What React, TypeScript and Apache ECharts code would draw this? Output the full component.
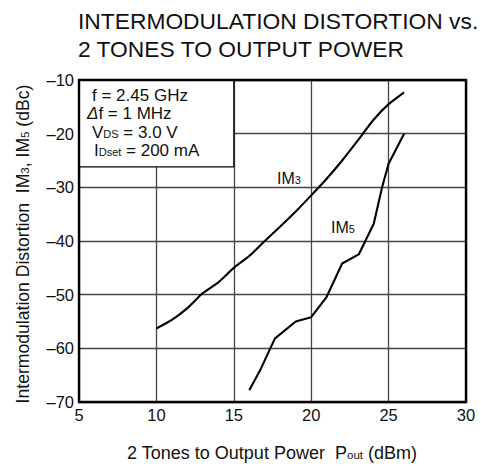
import React, { useEffect, useRef } from "react";
import * as echarts from "echarts";

const TITLE_LINES = ["INTERMODULATION DISTORTION vs.", "2 TONES TO OUTPUT POWER"];
const X_TICKS = [5, 10, 15, 20, 25, 30];
const Y_TICKS = [-70, -60, -50, -40, -30, -20, -10];

const IM3_X = [10, 11, 12, 13, 14, 15, 16, 17, 18, 19, 20, 21, 22, 23, 24, 25, 26];
const IM3_Y = [-56.3, -54.7, -52.5, -49.7, -47.7, -45.0, -42.8, -40.0, -37.3, -34.5, -31.5, -28.4, -25.0, -21.3, -17.5, -14.5, -12.3];

const IM5_X = [16, 16.7, 17.65, 19, 20, 21, 22, 23.07, 24.04, 24.58, 25, 26];
const IM5_Y = [-67.8, -64.1, -58.2, -55.0, -54.2, -50.4, -44.2, -42.5, -36.8, -30.0, -25.6, -20.0];

const BOX_CORNERS = [[5, -10], [15, -26.2]];

const FONT = "Liberation Sans, Arial, Helvetica, sans-serif";

export default function App() {
  const ref = useRef<HTMLDivElement>(null);
  useEffect(() => {
    if (!ref.current) return;
    const chart = echarts.init(ref.current, undefined, { renderer: "svg" });
    const gl = 79, gt = 80, gw = 387, gh = 322;
    const minus = (v: number) => String(v).replace("-", "\u2013");
    const sub = (size: number, big: number) => ({
      a: { fontSize: big, fontFamily: FONT, fill: "#111", verticalAlign: "bottom" },
      s: { fontSize: size, fontFamily: FONT, fill: "#111", verticalAlign: "bottom", padding: [0, 0, 1, 0] },
      i: { fontSize: big, fontFamily: FONT, fontStyle: "italic", fill: "#111", verticalAlign: "bottom" },
    });
    const txt = (x: number, y: number, text: string, rich: any, align = "left", extra: any = {}) => ({
      type: "text",
      x,
      y,
      z: 50,
      ...extra,
      style: { text, rich, fill: "#111", align, verticalAlign: "middle" },
    });
    const option: any = {
      animation: false,
      backgroundColor: "#fff",
      grid: { left: gl, top: gt, width: gw, height: gh, show: false },
      xAxis: {
        type: "value",
        min: X_TICKS[0],
        max: X_TICKS[X_TICKS.length - 1],
        interval: 5,
        axisLine: { show: false },
        axisTick: { show: false },
        axisLabel: { fontSize: 16.5, color: "#111", fontFamily: FONT, margin: 4 },
        splitLine: { show: true, lineStyle: { color: "#444", width: 1.3 } },
      },
      yAxis: {
        type: "value",
        min: Y_TICKS[0],
        max: Y_TICKS[Y_TICKS.length - 1],
        interval: 10,
        axisLine: { show: false },
        axisTick: { show: false },
        axisLabel: { fontSize: 16.5, color: "#111", fontFamily: FONT, margin: 5, formatter: minus },
        splitLine: { show: true, lineStyle: { color: "#444", width: 1.3 } },
      },
      series: [
        {
          type: "line",
          name: "IM3",
          data: IM3_X.map((x, i) => [x, IM3_Y[i]]),
          showSymbol: false,
          symbol: "none",
          smooth: 0.15,
          lineStyle: { color: "#000", width: 2.1 },
          markArea: {
            silent: true,
            itemStyle: { color: "#fff", borderColor: "#000", borderWidth: 1.2 },
            data: [[{ coord: BOX_CORNERS[0] }, { coord: BOX_CORNERS[1] }]],
          },
          z: 3,
        },
        {
          type: "line",
          name: "IM5",
          data: IM5_X.map((x, i) => [x, IM5_Y[i]]),
          showSymbol: false,
          symbol: "none",
          lineStyle: { color: "#000", width: 2.1 },
          z: 3,
        },
      ],
      graphic: [
        {
          type: "rect",
          shape: { x: gl, y: gt, width: gw, height: gh },
          style: { fill: "none", stroke: "#000", lineWidth: 2.4 },
          z: 100,
          silent: true,
        },
        {
          type: "text",
          x: 78,
          y: 7,
          style: {
            text: TITLE_LINES.join("\n"),
            fontSize: 22.8,
            lineHeight: 27.7,
            fontFamily: FONT,
            fill: "#111",
            align: "left",
            verticalAlign: "top",
          },
        },
        txt(92, 95, "{a|f = 2.45 GHz}", sub(11, 17)),
        txt(87, 113, "{i|\u0394}{a|f = 1 MHz}", sub(11, 17)),
        txt(92, 132, "{a|V}{s|DS}{a| = 3.0 V}", sub(11, 17)),
        txt(94, 150, "{a|I}{s|Dset}{a| = 200 mA}", sub(11, 17)),
        txt(277, 178, "{a|IM}{s|3}", sub(11, 16)),
        txt(331, 227, "{a|IM}{s|5}", sub(11, 16)),
        txt(272, 453, "{a|2 Tones to Output Power  P}{s|out}{a| (dBm)}", sub(11.5, 18), "center"),
        txt(
          23,
          244,
          "{a|Intermodulation Distortion  IM}{s|3}{a|, IM}{s|5}{a| (dBc)}",
          sub(11.5, 17.6),
          "center",
          { rotation: Math.PI / 2 }
        ),
      ],
    };
    chart.setOption(option);
    return () => chart.dispose();
  }, []);
  return (
    <div
      ref={ref}
      style={{ position: "fixed", left: 0, top: 0, width: 481, height: 466, background: "#fff" }}
    />
  );
}
